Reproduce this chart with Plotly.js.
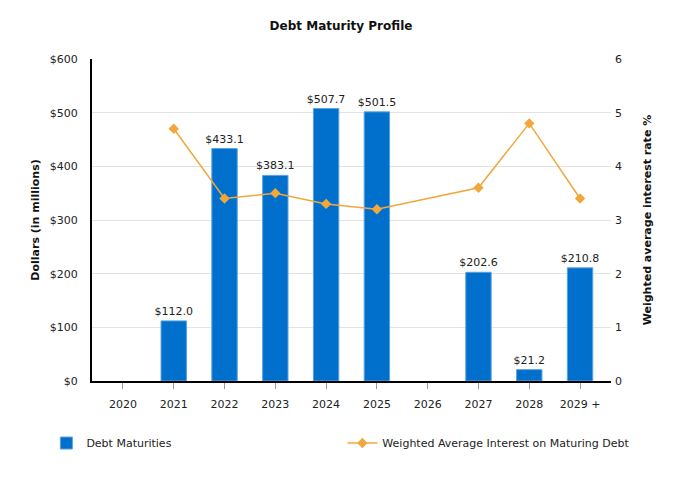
<!DOCTYPE html>
<html>
<head>
<meta charset="utf-8">
<script src="https://cdn.plot.ly/plotly-3.0.1.min.js"></script>
<style>html,body{margin:0;padding:0;background:#fff;}#chart{width:682px;height:480px;}</style>
</head>
<body>
<div id="chart"></div>
<script>
const years = ["2020","2021","2022","2023","2024","2025","2026","2027","2028","2029 +"];
const maturities = [null, 112.0, 433.1, 383.1, 507.7, 501.5, null, 202.6, 21.2, 210.8];
const rates = [null, 4.7, 3.4, 3.5, 3.3, 3.2, null, 3.6, 4.8, 3.4];
const leftTicks = [0, 100, 200, 300, 400, 500, 600];
const leftTickText = ["$0", "$100", "$200", "$300", "$400", "$500", "$600"];

const font = "DejaVu Sans, Verdana, sans-serif";

const bars = {
  type: "bar",
  name: "Debt Maturities",
  x: years,
  y: maturities,
  width: 0.5,
  marker: {color: "#0070CC", line: {color: "#5AA2E0", width: 1}},
  text: maturities.map(v => v == null ? "" : "$" + v.toFixed(1)),
  textposition: "outside",
  constraintext: "none",
  textfont: {family: font, size: 11, color: "#222"},
  cliponaxis: false,
  legend: "legend",
  hoverinfo: "none"
};
const line = {
  type: "scatter",
  mode: "lines+markers",
  name: "Weighted Average Interest on Maturing Debt",
  x: years,
  y: rates,
  yaxis: "y2",
  connectgaps: true,
  line: {color: "#F2A73B", width: 1.5},
  marker: {symbol: "diamond", size: 8, color: "#F2A73B"},
  legend: "legend2",
  hoverinfo: "none"
};

const legendBase = {
  orientation: "h", xref: "container", yref: "container", xanchor: "left",
  y: 0.077, yanchor: "middle", bgcolor: "rgba(0,0,0,0)",
  font: {family: font, size: 11, color: "#222"}
};

const layout = {
  width: 682, height: 480,
  margin: {l: 92, r: 71, t: 59, b: 99, autoexpand: false},
  paper_bgcolor: "#fff", plot_bgcolor: "#fff",
  font: {family: font, size: 11, color: "#222"},
  title: {text: "<b>Debt Maturity Profile</b>", x: 0.5, xanchor: "center", y: 0.947, yanchor: "middle", font: {family: font, size: 12, color: "#111"}},
  showlegend: true,
  legend: Object.assign({}, legendBase, {x: 0.068}),
  legend2: Object.assign({}, legendBase, {x: 0.502}),
  xaxis: {
    type: "category", showline: true, linecolor: "#000", linewidth: 2,
    ticks: "outside", ticklen: 6, tickcolor: "#999", tickwidth: 1,
    ticklabelstandoff: 6, automargin: false,
    showgrid: false, tickfont: {family: font, size: 11, color: "#222"}, fixedrange: true
  },
  yaxis: {
    range: [0, 600], tickvals: leftTicks, ticktext: leftTickText,
    showline: true, linecolor: "#000", linewidth: 2,
    gridcolor: "#e3e3e3", gridwidth: 1, zeroline: false, automargin: false,
    ticks: "", ticklabelstandoff: 10, tickfont: {family: font, size: 11, color: "#222"},
    title: {text: "<b>Dollars (in millions)</b>", standoff: 8, font: {family: font, size: 11, color: "#111"}}
  },
  yaxis2: {
    range: [0, 6], dtick: 1, overlaying: "y", side: "right",
    showline: false, showgrid: false, zeroline: false, automargin: false,
    ticks: "", ticklabelstandoff: 3, tickfont: {family: font, size: 11, color: "#222"},
    title: {text: "<b>Weighted average interest rate %</b>", standoff: 22, font: {family: font, size: 11, color: "#111"}}
  }
};

Plotly.newPlot("chart", [bars, line], layout, {staticPlot: true, displayModeBar: false});
</script>
</body>
</html>
